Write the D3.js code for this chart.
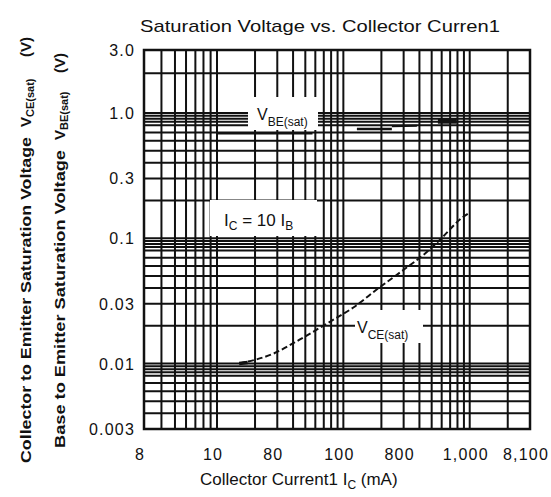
<!DOCTYPE html>
<html>
<head>
<meta charset="utf-8">
<script src="https://cdn.jsdelivr.net/npm/d3@7"></script>
<style>
  body { margin: 0; background: #fff; }
  text { font-family: "Liberation Sans", Arial, sans-serif; fill: #111; }
</style>
</head>
<body>
<svg width="551" height="497"></svg>
<script>
// axis ticks (labels as printed on the sheet)
const xTicks = [3, 10, 30, 100, 300, 1000, 3000];
const xTickLabels = ["8", "10", "80", "100", "800", "1,000", "8,100"];
const yTicks = [3, 1, 0.3, 0.1, 0.03, 0.01, 0.003];
const yTickLabels = ["3.0", "1.0", "0.3", "0.1", "0.03", "0.01", "0.003"];

// grid lines of the chart paper
const xGrid = [4, 5, 6, 7, 8, 9, 10, 20, 30, 40, 50, 60, 70, 80, 90, 100,
               200, 300, 400, 500, 600, 700, 800, 900, 1000, 2000];
const yGrid = [2, 1, 0.95, 0.9, 0.85, 0.8, 0.7, 0.6, 0.5, 0.4, 0.3, 0.2,
               0.1, 0.095, 0.09, 0.085, 0.08, 0.07, 0.06, 0.05, 0.04, 0.03, 0.02,
               0.01, 0.0095, 0.009, 0.0085, 0.008, 0.007, 0.006, 0.005, 0.004];

// V_CE(sat) curve, Ic (mA) vs V
const vceIc = [15, 28, 45, 75, 120, 190, 300, 460, 580, 880, 1000];
const vceV  = [0.010, 0.012, 0.0155, 0.021, 0.028, 0.040, 0.056, 0.078, 0.097, 0.147, 0.16];

// V_BE(sat) curve, printed in broken pieces
const vbeSegments = [
  [[10, 0.69], [57, 0.69]],
  [[128, 0.745], [242, 0.745]],
  [[242, 0.785], [382, 0.79]],
  [[560, 0.86], [790, 0.86]]
];
const vbeWidths = [2.5, 2.5, 2, 5];

const svg = d3.select("svg");

// the scanned paper is slightly stretched in the first decade
const x = d3.scaleLog().domain([3, 10, 3000]).range([144, 217, 530]);
const y = d3.scaleLog().domain([3, 1, 0.003]).range([50, 113, 429]);

const grid = svg.append("g").attr("stroke", "#111").attr("stroke-width", 2);
grid.selectAll(".gx").data(xGrid).enter().append("line")
  .attr("x1", d => x(d)).attr("x2", d => x(d))
  .attr("y1", y(3)).attr("y2", y(0.003));
grid.selectAll(".gy").data(yGrid).enter().append("line")
  .attr("y1", d => y(d)).attr("y2", d => y(d))
  .attr("x1", x(3)).attr("x2", x(3000));

svg.append("rect")
  .attr("x", x(3)).attr("y", y(3))
  .attr("width", x(3000) - x(3)).attr("height", y(0.003) - y(3))
  .attr("fill", "none").attr("stroke", "#111").attr("stroke-width", 2.5);

// white patches behind the in-plot labels
const boxes = [[248, 97, 70, 33], [210, 200, 107, 36], [355, 310, 68, 33]];
svg.selectAll(".box").data(boxes).enter().append("rect")
  .attr("x", d => d[0]).attr("y", d => d[1])
  .attr("width", d => d[2]).attr("height", d => d[3])
  .attr("fill", "#fff");

const line = d3.line().x(d => x(d[0])).y(d => y(d[1]));
const vcePts = vceIc.map((v, i) => [v, vceV[i]]);

svg.append("path")
  .attr("d", line.curve(d3.curveMonotoneX)(vcePts))
  .attr("fill", "none").attr("stroke", "#111").attr("stroke-width", 2)
  .attr("stroke-dasharray", "6,3");
// heavier start of the trace
svg.append("path")
  .attr("d", d3.line().x(d => x(d[0])).y(d => y(d[1]))(vcePts.slice(0, 1).concat([[17.5, 0.0102]])))
  .attr("fill", "none").attr("stroke", "#111").attr("stroke-width", 3.5);

svg.selectAll(".vbe").data(vbeSegments).enter().append("path")
  .attr("d", d => d3.line().x(p => x(p[0])).y(p => y(p[1]))(d))
  .attr("fill", "none").attr("stroke", "#111")
  .attr("stroke-width", (d, i) => vbeWidths[i]);

// tick labels
svg.selectAll(".xt").data(xTicks).enter().append("text")
  .attr("x", d => x(d) - 4).attr("y", 460)
  .attr("text-anchor", "middle").style("font-size", "16px").style("letter-spacing", "1.2px")
  .text((d, i) => xTickLabels[i]);
svg.selectAll(".yt").data(yTicks).enter().append("text")
  .attr("x", 135).attr("y", d => y(d) + 6)
  .attr("text-anchor", "end").style("font-size", "16px").style("letter-spacing", "1.2px")
  .text((d, i) => yTickLabels[i]);

// title
svg.append("text").attr("x", 140).attr("y", 32)
  .attr("textLength", 360).attr("lengthAdjust", "spacingAndGlyphs")
  .style("font-size", "17px")
  .text("Saturation Voltage vs. Collector Curren1");

// x axis title
const xt = svg.append("text").attr("x", 200).attr("y", 485).style("font-size", "17px");
xt.append("tspan").text("Collector Current1  I");
xt.append("tspan").attr("dy", 4).style("font-size", "12px").text("C");
xt.append("tspan").attr("dy", -4).text("  (mA)");

// y axis titles (two lines, rotated)
function yTitle(bx, bottom, main, mainLen, sub, subAt, unitAt) {
  const g = svg.append("g").style("font-weight", "bold");
  g.append("text").attr("transform", `translate(${bx},${bottom}) rotate(-90)`)
    .attr("textLength", mainLen).attr("lengthAdjust", "spacingAndGlyphs")
    .style("font-size", "15px").text(main);
  const t = g.append("text").attr("transform", `translate(${bx},${subAt}) rotate(-90)`)
    .style("font-size", "15px");
  t.append("tspan").text("V");
  t.append("tspan").attr("dy", 3).style("font-size", "11px").text(sub);
  g.append("text").attr("transform", `translate(${bx},${unitAt}) rotate(-90)`)
    .style("font-size", "15px").text("(V)");
}
yTitle(31, 463, "Collector to Emitter Saturation Voltage", 326, "CE(sat)", 127, 57);
yTitle(65, 448, "Base to Emitter Saturation Voltage", 298, "BE(sat)", 140, 73);

// in-plot labels
const lb = svg.append("text").attr("x", 257).attr("y", 120).style("font-size", "16px");
lb.append("tspan").text("V");
lb.append("tspan").attr("dy", 6).style("font-size", "12px").text("BE(sat)");

const li = svg.append("text").attr("x", 224).attr("y", 226).style("font-size", "17px");
li.append("tspan").text("I");
li.append("tspan").attr("dy", 4).style("font-size", "12px").text("C");
li.append("tspan").attr("dy", -4).text(" = 10 I");
li.append("tspan").attr("dy", 4).style("font-size", "12px").text("B");

const lc = svg.append("text").attr("x", 357).attr("y", 333).style("font-size", "16px");
lc.append("tspan").text("V");
lc.append("tspan").attr("dy", 6).style("font-size", "12px").text("CE(sat)");
</script>
</body>
</html>
